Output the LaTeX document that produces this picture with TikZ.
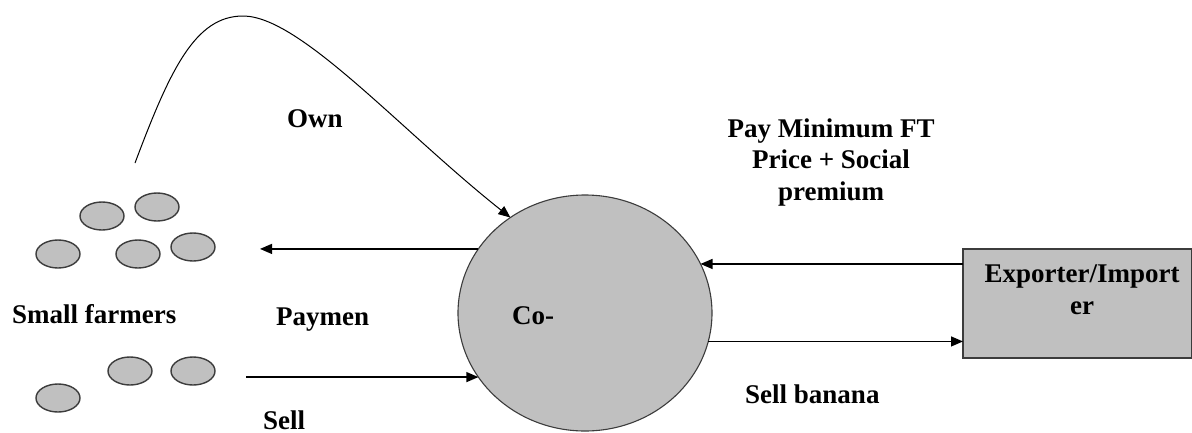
\documentclass[tikz,border=0pt]{standalone}
\usepackage{fontspec}
\setmainfont{Liberation Serif}
\usetikzlibrary{arrows.meta,shapes.geometric}
\definecolor{shade}{HTML}{C0C0C0}
\definecolor{rim}{HTML}{3C3C3C}
\begin{document}
\begin{tikzpicture}[x=1pt,y=-1pt,
  lbl/.style={font=\fontsize{27}{31.5}\selectfont\bfseries, inner sep=0pt, anchor=base west},
  farmer/.style={ellipse, draw=rim, line width=1.4pt, fill=shade, minimum width=44pt, minimum height=28pt, inner sep=0pt},
  arr/.style={line width=1.3pt, -{Triangle[length=12pt,width=10pt]}},
  link/.style={line width=1.1pt}]
\useasboundingbox (0,0) rectangle (1192,432);
% farmers
\node[farmer] (f1) at (102,216) {};
\node[farmer] (f2) at (157,207) {};
\node[farmer] (f3) at (58,254) {};
\node[farmer] (f4) at (138,254) {};
\node[farmer] (f5) at (193,247) {};
\node[farmer] (f6) at (130,371) {};
\node[farmer] (f7) at (193,371) {};
\node[farmer] (f8) at (58,398) {};
% co-op
\node[ellipse, draw=rim, line width=1.1pt, fill=shade, minimum width=254pt, minimum height=236pt, inner sep=0pt, outer sep=0pt] (coop) at (585,313) {};
% exporter box
\node[draw=rim, line width=1.3pt, fill=shade, minimum width=229pt, minimum height=109pt, inner sep=0pt, outer sep=0pt] (exp) at (1077.5,303.5) {};
\node[font=\fontsize{27}{31.5}\selectfont\bfseries, align=center, inner sep=0pt, anchor=base] (exptext) at (1082,314) {Exporter/Import\\er};
% labels
\node[lbl] (own) at (287,127) {Own};
\node[lbl] (farmers) at (12,323) {Small farmers};
\node[lbl] (paymen) at (276,325) {Paymen};
\node[lbl] (sell) at (263,429) {Sell};
\node[lbl] (co) at (512,324) {Co-};
\node[lbl] (sellb) at (745,403) {Sell banana};
\node[font=\fontsize{27}{31.5}\selectfont\bfseries, align=center, inner sep=0pt, anchor=base] (pay) at (831,200) {Pay Minimum FT\\Price + Social\\premium};
% connectors
\coordinate (curvestart) at (135,163);
\coordinate (payend) at (260,249);
\coordinate (sellstart) at (246,378);
\draw[arr, line width=1pt] (curvestart) .. controls (170,70) and (195,16) .. (243,16)
   .. controls (300,16) and (400,130) .. (coop.128);
\draw[arr] (coop.149) -- (coop.149 -| payend);
\draw[arr] (coop.211 -| sellstart) -- (coop.211);
\draw[arr] (exp.west |- coop.23.5) -- (coop.23.5);
\draw[arr] (coop.347) -- (exp.west |- coop.347);
\end{tikzpicture}
\end{document}
